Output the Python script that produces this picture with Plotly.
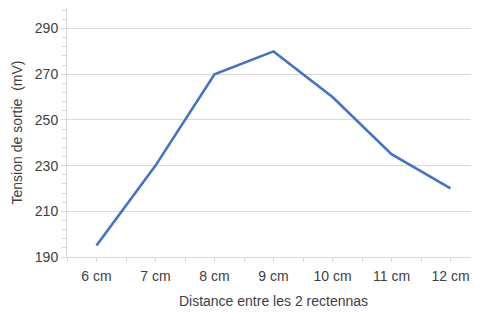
import plotly.graph_objects as go

categories = ["6 cm", "7 cm", "8 cm", "9 cm", "10 cm", "11 cm", "12 cm"]
tension_mv = [195, 230, 270, 280, 260, 235, 220]
y_ticks = [190, 210, 230, 250, 270, 290]

x_pos = list(range(len(categories)))

fig = go.Figure()
fig.add_trace(go.Scatter(
    x=x_pos, y=tension_mv, mode="lines",
    line=dict(color="#4472C4", width=2.6),
    hoverinfo="skip", showlegend=False,
))

font = dict(family="Liberation Sans, Arial, sans-serif", size=14, color="#404040")

fig.update_layout(
    width=479, height=313,
    margin=dict(l=59, r=7, t=0, b=64),
    paper_bgcolor="white", plot_bgcolor="white",
    font=font,
    xaxis=dict(
        range=[-0.5, 6.5],
        tickvals=x_pos, ticktext=categories,
        ticks="", showgrid=False, zeroline=False,
        showline=True, linecolor="#D9D9D9", linewidth=1,
        minor=dict(tickmode="linear", tick0=-0.5, dtick=0.5, ticks="outside",
                   ticklen=4, tickcolor="#D9D9D9", showgrid=False),
        tickfont=dict(size=14, color="#404040"),
        ticklabelstandoff=6,
        title=dict(text="Distance entre les 2 rectennas", standoff=13,
                   font=dict(size=14, color="#404040")),
        fixedrange=True,
    ),
    yaxis=dict(
        range=[190, 299],
        tickvals=y_ticks,
        ticks="outside", ticklen=5, tickcolor="#D9D9D9",
        showgrid=True, gridcolor="#D9D9D9", gridwidth=1,
        zeroline=False,
        showline=True, linecolor="#D9D9D9", linewidth=1,
        minor=dict(tickmode="linear", tick0=190, dtick=4, ticks="outside",
                   ticklen=4, tickcolor="#D9D9D9", showgrid=False),
        tickfont=dict(size=14, color="#404040"),
        title=dict(text="Tension de sortie  (mV)", standoff=8,
                   font=dict(size=14, color="#404040")),
        fixedrange=True,
    ),
)

fig.write_html("out.html")
